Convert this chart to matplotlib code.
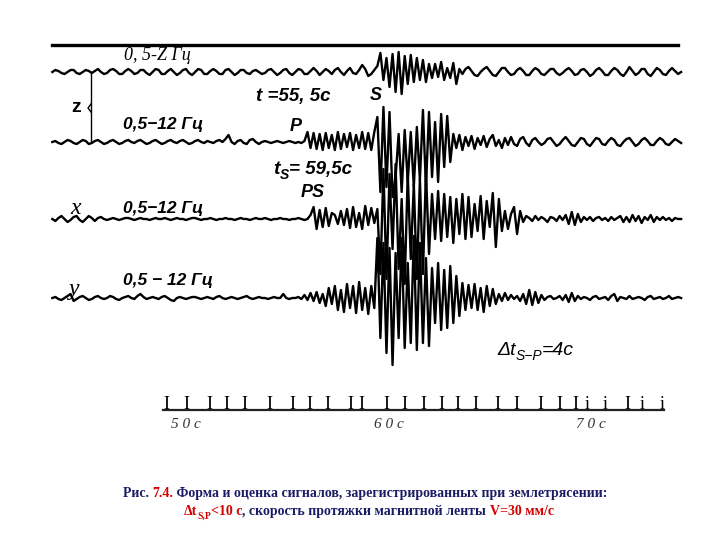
import numpy as np
import matplotlib.pyplot as plt

# time base of the record (seconds), one sample every DT
T0 = 43.4
DT = 0.15
PX_PER_S = 20.25
T_LEFT = 50 - 186 / PX_PER_S

# trace amplitudes (px, up = positive)
trace_z_low = [
    0, 2, 1, -1, -2, 0, 2, 2, -1, -2,
    0, 2, 1, -1, 1, 3, 0, -2, -1, 2,
    3, 1, -2, -2, 1, 3, 1, -2, -1, 2,
    2, -1, -3, 0, 3, 2, -2, -2, 1, 3,
    0, -3, -1, 2, 3, -1, -3, 0, 3, 2,
    -2, -2, 1, 3, 1, -2, -2, 2, 3, 0,
    -3, -1, 2, 2, -1, -2, 1, 2, 0, -2,
    -1, 2, 3, 0, -3, -1, 2, 3, -1, -3,
    0, 3, 2, -2, -2, 1, 4, 1, -3, 0,
    3, 1, -2, 2, 4, 0, -3, 1, 4, -1,
    -2, 2, 7, 3, -4, -2, 2, 6, 19, -8,
    14, -15, 18, -20, 20, -22, 16, -12, 17, -10,
    14, -8, 12, -10, 8, -6, 8, -5, 10, -8,
    4, -6, 9, -12, 3, -2, 3, 5, 1, -3,
    -4, 0, 3, 5, 1, -3, -4, 0, 4, 4,
    0, -3, -2, 2, 4, 1, -3, -3, 1, 4,
    2, -2, -3, 0, 3, 3, -1, -3, -1, 2,
    4, 1, -3, -2, 2, 3, 0, -4, -2, 2,
    4, 1, -3, -3, 1, 4, 2, -2, -4, 0,
    5, 1, -3, -1, 3, 3, -2, -4, 0, 4,
    2, -2, -3, 1, 4, 1, -2, 0,
]
trace_z = [
    0, 1, -1, -2, 0, 2, 1, -1, -2, 0,
    2, 1, -2, -1, 1, 2, 0, -2, -1, 1,
    2, 0, -2, -1, 1, 2, 0, -1, 1, 2,
    0, -2, -1, 1, 2, 0, -2, -1, 1, 2,
    0, -1, 1, 2, 0, -2, -1, 1, 2, 0,
    -1, 1, 0, -1, 1, 2, 0, 3, 7, 0,
    -2, 1, 2, -1, -2, 2, 3, 0, -2, 0,
    1, 0, -1, 0, 1, 0, -1, 0, 1, 0,
    -1, 0, -1, 1, 10, -6, 9, -7, 8, -8,
    9, -6, 7, -8, 10, -7, 8, -5, 9, -8,
    7, -6, 10, -7, 9, -8, 10, 25, -50, 35,
    -45, 30, -55, -35, 8, -50, 12, -40, 10, -45,
    15, -38, 32, -45, 30, -35, 20, -40, 28, -25,
    26, -20, 8, -6, 7, -8, 5, -4, 6, -7,
    4, -3, 6, -5, 3, 7, -4, 2, -6, 4,
    -3, 5, -2, -4, 3, 5, -1, -4, 2, 4,
    0, -3, -1, 3, 4, 0, -4, -2, 2, 5,
    1, -3, -4, 0, 4, 3, -2, -4, 0, 4,
    3, -2, -3, 1, 4, 2, -3, -4, 0, 3,
    4, 0, -4, -2, 2, 4, 1, -3, -3, 1,
    4, 2, -2, -3, 0, 3, 1, -1,
]
trace_x = [
    0, -2, 1, 3, 0, -3, -1, 2, 3, -1,
    -3, 0, 3, 1, -2, 1, 2, 0, -1, 0,
    1, 0, -1, 0, 1, 1, 0, -1, 0, 1,
    0, 0, -1, 0, 1, 0, 0, 1, 0, -1,
    0, 1, 0, 0, -1, 0, 1, 1, 0, -1,
    0, 0, 1, 0, -1, 0, 0, 1, 0, 0,
    -1, 0, 1, 0, 0, -1, 0, 1, 0, 0,
    1, 0, -1, 0, 0, 1, 0, 0, -1, 0,
    0, 1, 0, -1, 0, 4, 12, -10, 9, -8,
    11, -7, 6, 4, -5, 8, -6, 10, -9, 12,
    -8, 6, -10, 13, -6, 11, -4, 10, -55, 50,
    -60, 45, -30, 55, -50, 20, -65, 45, -40, 35,
    -60, 40, -55, 48, -35, 25, -20, 28, -22, 25,
    -18, 22, -24, 20, -15, 25, -20, 22, -18, 15,
    -12, 23, -20, 18, -8, 26, -28, 20, -12, 8,
    -10, 5, 12, -15, 8, -3, 3, 1, -2, 3,
    -1, 2, 0, -3, 2, 1, -2, 3, -1, 4,
    -5, 7, -6, 5, -3, 2, -1, 2, -2, 1,
    2, -1, 1, -2, 2, -1, 1, 3, -3, 2,
    -3, 4, -2, 3, -4, 2, -1, 4, -3, 2,
    -1, 2, -1, 1, -2, 1, 0, 0,
]
trace_y = [
    0, 1, -1, -2, 0, 2, 4, -3, -1, 1,
    2, 0, -2, -1, 1, 2, 0, -1, 0, 2,
    1, -1, -2, 0, 1, 2, 0, -1, 2, 4,
    1, -1, 0, 1, 0, -1, 1, 2, 0, -2,
    -3, 0, 1, 0, -1, 0, 1, 1, 0, -1,
    0, 1, 0, -1, 1, 2, 0, -1, 0, 1,
    0, -1, 0, 1, 2, 0, -1, 0, 1, 0,
    0, -1, 0, 1, 0, 0, 4, 0, -1, 0,
    0, 1, -1, 3, -2, 5, -3, 6, -5, 4,
    -8, 10, -6, 12, -12, 8, -14, 14, -10, 12,
    -15, 16, -12, 10, -16, 12, -10, 60, -40, 55,
    -55, 50, -67, 45, -40, 60, -50, 35, -45, 62,
    -52, 55, -45, 40, -48, 30, -25, 35, -32, 28,
    -30, 32, -25, 22, -18, 15, -12, 13, -10, 14,
    -12, 10, -14, 12, -8, 9, -6, 4, -3, 5,
    -2, 3, -1, 2, -3, 4, -6, 8, -7, 6,
    -5, 3, -2, 1, 2, -1, 0, 2, -2, 3,
    -4, 5, -3, 2, -1, 1, 0, -2, 1, 2,
    -1, 0, 1, -2, 2, 4, -3, 1, 0, -1,
    2, -1, 0, 1, 0, -2, 1, 2, -1, 0,
    1, -1, 0, 2, -1, 0, 1, 0,
]

# time marks under the record (s) and their glyphs
tick_times = [49.05, 50.0, 51.14, 51.98, 52.86, 54.1, 55.24, 56.1, 57.0,
              58.12, 58.67, 59.9, 60.8, 61.7, 62.6, 63.4, 64.3, 65.4, 66.3,
              67.5, 68.44, 69.23, 69.8, 70.7, 71.8, 72.5, 73.5]
tick_marks = "IIIIIIIIIIIIIIIIIIIIIIiiIii"
scale_labels = [50, 60, 70]

SANS = ['Liberation Sans', 'DejaVu Sans']
SERIF = ['Liberation Serif', 'DejaVu Serif']
NAVY = '#1c1c66'
RED = '#d40000'

fig = plt.figure(figsize=(7.2, 5.4), dpi=100)
ax = fig.add_axes([0, 0, 1, 1])
ax.set_xlim(T_LEFT, T_LEFT + 720 / PX_PER_S)
ax.set_ylim(540, 0)
ax.axis('off')


def tx(xpix):
    return T_LEFT + xpix / PX_PER_S


# traces
for trace, base in [(trace_z_low, 72), (trace_z, 142), (trace_x, 219), (trace_y, 298)]:
    t = T0 + DT * np.arange(len(trace))
    ax.plot(t, base - np.array(trace), color='black', lw=1.7, solid_joinstyle='round')

# top rule and z brace
ax.plot([tx(52), tx(678)], [45, 45], color='black', lw=2.4)
ax.plot([tx(91), tx(91)], [72, 142], color='black', lw=1.0)
ax.plot([tx(91), tx(88), tx(91)], [104, 108, 112], color='black', lw=1.0)

# time scale
for tt, m in zip(tick_times, tick_marks):
    ax.text(tt, 409, m, ha='center', va='baseline', family=SERIF, fontsize=13)
ax.plot([tick_times[0] - 0.2, tick_times[-1] + 0.1], [410, 410], color='#222222', lw=1.6)
for s in scale_labels:
    ax.text(s, 424, " ".join(str(s)) + " с", ha='center', va='center', family=SERIF,
            style='italic', fontsize=11, color='#333333')


def put(x, y, s, **kw):
    return fig.text(x / 720, 1 - y / 540, s, **kw)


def chain(x, y, parts, **kw):
    prev = None
    for s, color, size, dy in parts:
        if prev is None:
            prev = put(x, y, s, color=color, fontsize=size, ha='left', va='bottom', **kw)
        else:
            prev = ax.annotate(s, xy=(1, 0), xycoords=prev, xytext=(0, dy),
                               textcoords='offset points', color=color, fontsize=size,
                               ha='left', va='bottom', **kw)


hand = dict(family=SANS, style='italic', weight='bold', color='black')
put(124, 56, "0, 5-Z Гц", family=SERIF, style='italic', fontsize=13, va='center')
put(76, 108, "z", family=SANS, weight='bold', fontsize=14, ha='center', va='center')
put(123, 125, "0,5−12 Гц", fontsize=12.5, va='center', **hand)
put(256, 97, "t =55, 5c", fontsize=13.5, va='center', **hand)
put(376, 95, "S", fontsize=13, ha='center', va='center', **hand)
put(296, 126, "P", fontsize=13, ha='center', va='center', **hand)
put(313, 192, "PS", fontsize=13, ha='center', va='center', **hand)
put(76, 209, "x", family=SERIF, style='italic', fontsize=17, ha='center', va='center')
put(123, 209, "0,5−12 Гц", fontsize=12.5, va='center', **hand)
put(74, 289, "y", family=SERIF, style='italic', fontsize=17, ha='center', va='center')
put(123, 281, "0,5 − 12 Гц", fontsize=12.5, va='center', **hand)

chain(273, 178, [("t", 'black', 14, 0), ("S", 'black', 10, -3), ("= 59,5c", 'black', 13.5, 3)],
      family=SANS, style='italic', weight='bold')
chain(497, 359, [("Δt", 'black', 14, 0), ("S−P", 'black', 10, -3), ("=4c", 'black', 14, 3)],
      family=SANS, style='italic')

# caption
chain(123, 500, [("Рис. ", NAVY, 10, 0), ("7.4.", RED, 10, 0),
                 (" Форма и оценка сигналов, зарегистрированных при землетрясении:", NAVY, 10, 0)],
      family=SERIF, weight='bold')
chain(184, 518, [("Δt", RED, 10, 0), ("S,P", RED, 7, -2), ("<10 с", RED, 10, 2),
                 (", скорость протяжки магнитной ленты ", NAVY, 10, 0),
                 ("V=30 мм/с", RED, 10, 0)],
      family=SERIF, weight='bold')

fig.savefig('out.png', dpi=100, facecolor='white')
